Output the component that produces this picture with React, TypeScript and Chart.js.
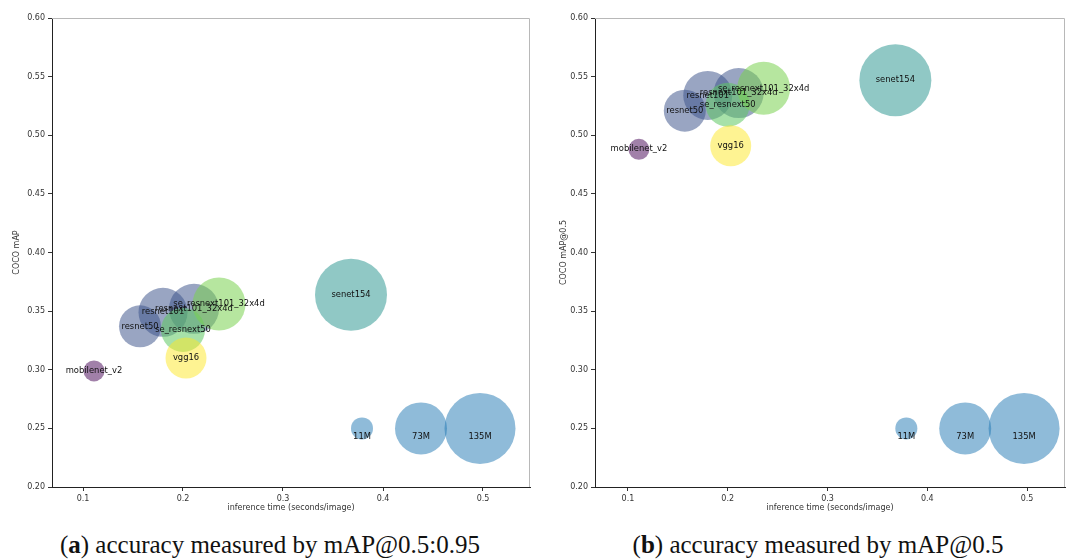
import React, { useEffect, useRef } from 'react';
import { Chart, registerables } from 'chart.js';
Chart.register(...registerables);

// ---- data ----
const models = ['mobilenet_v2', 'resnet50', 'resnet101', 'resnext101_32x4d', 'se_resnext50', 'se_resnext101_32x4d', 'senet154', 'vgg16'];
const inferenceTime = [0.111, 0.157, 0.180, 0.211, 0.200, 0.236, 0.368, 0.203];
const mapCoco = [0.299, 0.337, 0.349, 0.352, 0.334, 0.356, 0.364, 0.310];
const map50 = [0.488, 0.521, 0.534, 0.536, 0.526, 0.540, 0.547, 0.491];
const bubbleRadius = [10.5, 21, 24.5, 25, 22, 26.5, 36, 20.5];
const modelColors = [
  'rgba(68,1,84,0.5)',
  'rgba(59,82,139,0.52)',
  'rgba(59,82,139,0.52)',
  'rgba(59,82,139,0.52)',
  'rgba(94,201,98,0.55)',
  'rgba(122,209,81,0.55)',
  'rgba(33,145,140,0.5)',
  'rgba(253,231,37,0.5)',
];
const sizeLabels = ['11M', '73M', '135M'];
const sizeTime = [0.379, 0.438, 0.497];
const sizeMap = [0.25, 0.25, 0.25];
const sizeRadius = [11, 26, 35.5];
const sizeColor = 'rgba(31,119,180,0.5)';

const xTicks = [0.1, 0.2, 0.3, 0.4, 0.5];
const yTicks = [0.2, 0.25, 0.3, 0.35, 0.4, 0.45, 0.5, 0.55, 0.6];

const FONT = 'DejaVu Sans';

const labelPlugin = {
  id: 'bubbleLabels',
  afterDatasetsDraw(chart: any) {
    const ctx = chart.ctx;
    ctx.save();
    ctx.font = `8.4px "${FONT}"`;
    ctx.fillStyle = '#111';
    ctx.textAlign = 'center';
    ctx.textBaseline = 'middle';
    chart.data.datasets.forEach((ds: any, di: number) => {
      const meta = chart.getDatasetMeta(di);
      meta.data.forEach((el: any, i: number) => {
        const dy = ds.labelOffset || 0;
        ctx.fillText(ds.names[i], el.x, el.y + dy);
      });
    });
    ctx.restore();
  },
};

const framePlugin = {
  id: 'frame',
  afterDraw(chart: any) {
    const { ctx, chartArea: a } = chart;
    ctx.save();
    ctx.strokeStyle = '#b8b8b8';
    ctx.lineWidth = 1;
    ctx.beginPath();
    ctx.moveTo(a.left, a.top + 0.5);
    ctx.lineTo(a.right - 0.5, a.top + 0.5);
    ctx.lineTo(a.right - 0.5, a.bottom);
    ctx.stroke();
    ctx.restore();
  },
};

function BubbleChart(props: any) {
  const ref = useRef<HTMLCanvasElement>(null);
  useEffect(() => {
    const canvas = ref.current!;
    const chart = new Chart(canvas, {
      type: 'bubble',
      data: {
        datasets: [
          {
            names: models,
            data: models.map((_, i) => ({ x: inferenceTime[i], y: props.yValues[i], r: bubbleRadius[i] })),
            backgroundColor: modelColors,
            borderWidth: 0,
            hoverBorderWidth: 0,
          } as any,
          {
            names: sizeLabels,
            labelOffset: 8,
            data: sizeLabels.map((_, i) => ({ x: sizeTime[i], y: sizeMap[i], r: sizeRadius[i] })),
            backgroundColor: sizeColor,
            borderWidth: 0,
            hoverBorderWidth: 0,
          } as any,
        ],
      },
      options: {
        responsive: false,
        animation: false,
        devicePixelRatio: 1,
        layout: { autoPadding: false, padding: { left: 0, right: props.rightPad, top: 18, bottom: 0 } },
        plugins: { legend: { display: false }, tooltip: { enabled: false } },
        scales: {
          x: {
            type: 'linear',
            min: props.xMin,
            max: props.xMax,
            afterBuildTicks: (s: any) => { s.ticks = xTicks.map((v) => ({ value: v })); },
            afterFit: (s: any) => { s.height = 43; },
            ticks: { font: { family: FONT, size: 8 }, color: '#333', padding: 3, callback: (v: any) => Number(v).toFixed(1), maxRotation: 0 },
            grid: { drawOnChartArea: false, drawTicks: true, tickLength: 4, color: '#333' },
            border: { display: true, color: '#222', width: 1 },
            title: { display: true, text: 'inference time (seconds/image)', font: { family: FONT, size: 8 }, color: '#333', padding: { top: 0, bottom: 17 } },
          },
          y: {
            type: 'linear',
            min: 0.2,
            max: 0.6,
            afterBuildTicks: (s: any) => { s.ticks = yTicks.map((v) => ({ value: v })); },
            afterFit: (s: any) => { s.width = props.yAxisWidth; },
            ticks: { font: { family: FONT, size: 8 }, color: '#333', padding: 3, callback: (v: any) => Number(v).toFixed(2) },
            grid: { drawOnChartArea: false, drawTicks: true, tickLength: 4, color: '#333' },
            border: { display: true, color: '#222', width: 1 },
            title: { display: true, text: props.yTitle, font: { family: FONT, size: 8 }, color: '#333', padding: { top: props.yTitlePad, bottom: 0 } },
          },
        },
      } as any,
      plugins: [labelPlugin, framePlugin],
    });
    return () => chart.destroy();
  }, []);
  return <canvas ref={ref} width={props.width} height={530} style={{ position: 'absolute', left: props.left, top: 0, width: props.width, height: 530 }} />;
}

const captionStyle: React.CSSProperties = {
  position: 'absolute',
  top: 530,
  height: 30,
  lineHeight: '30px',
  fontFamily: '"Liberation Serif", serif',
  fontSize: 25,
  color: '#111',
  textAlign: 'center',
  whiteSpace: 'nowrap',
};

export default function App() {
  return (
    <div style={{ position: 'absolute', left: 0, top: 0, width: 1066, height: 559, background: '#fff', overflow: 'hidden' }}>
      <BubbleChart left={0} width={540} yValues={mapCoco} yTitle="COCO mAP" xMin={0.069} xMax={0.547} yAxisWidth={52} rightPad={10} yTitlePad={12} />
      <BubbleChart left={540} width={526} yValues={map50} yTitle="COCO mAP@0.5" xMin={0.067} xMax={0.538} yAxisWidth={55} rightPad={1} yTitlePad={19} />
      <div style={{ ...captionStyle, left: 0, width: 540 }}>
        (<b>a</b>) accuracy measured by mAP@0.5:0.95
      </div>
      <div style={{ ...captionStyle, left: 540, width: 556 }}>
        (<b>b</b>) accuracy measured by mAP@0.5
      </div>
    </div>
  );
}
